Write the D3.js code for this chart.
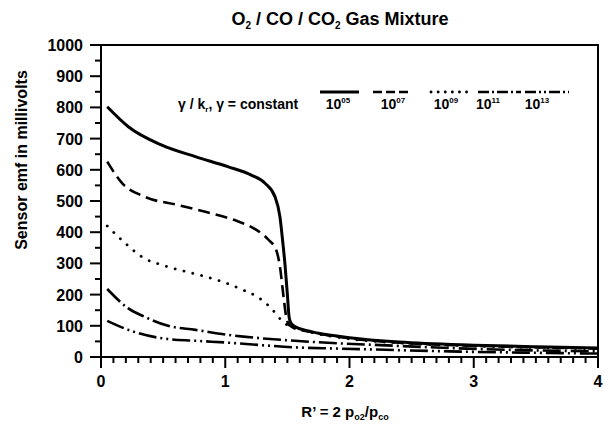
<!DOCTYPE html>
<html>
<head>
<meta charset="utf-8">
<script src="https://cdn.jsdelivr.net/npm/d3@7"></script>
<style>
  body { margin: 0; background: #fff; }
  svg { display: block; }
  svg text { font-family: "Liberation Sans", Arial, Helvetica, sans-serif; font-weight: bold; fill: #000; }
</style>
</head>
<body>
<svg id="chart" width="605" height="432" viewBox="0 0 605 432"></svg>
<script>
// ---- data ----
const seriesNames = ["10^05", "10^07", "10^09", "10^11", "10^13"];
const xTickLabels = [0, 1, 2, 3, 4];
const yTickLabels = [0, 100, 200, 300, 400, 500, 600, 700, 800, 900, 1000];

const x05 = [0.05,0.22,0.49,0.76,1.02,1.21,1.32,1.40,1.44,1.46,1.48,1.50,1.515,1.53,1.56,1.66,1.74,2.0,2.4,3.0,3.5,4.0];
const y05 = [802,738,679,642,610,583,557,514,450,380,300,200,125,108,98,84,77,62,48,38,33,29];

const x07 = [0.05,0.17,0.35,0.62,0.89,1.10,1.24,1.35,1.41,1.44,1.47,1.49,1.51,1.53,1.58,1.7,2.0,2.4,3.0,3.5,4.0];
const y07 = [626,557,514,487,460,435,410,375,343,290,190,130,105,98,90,79,60,46,36,31,27];

const x09 = [0.05,0.18,0.35,0.49,0.65,0.82,1.0,1.13,1.27,1.37,1.45,1.52,1.6,1.7,2.0,2.4,3.0,3.5,4.0];
const y09 = [420,370,316,295,277,260,238,217,190,156,119,97,88,78,58,45,35,30,26];

const x11 = [0.05,0.22,0.35,0.54,0.76,1.02,1.29,1.56,1.9,2.25,2.86,3.4,4.0];
const y11 = [218,156,129,100,87,71,60,52,44,38,28,22,18];

const x13 = [0.05,0.22,0.49,0.76,1.02,1.29,1.56,1.9,2.2,2.8,3.4,4.0];
const y13 = [116,87,60,52,46,38,31,27,24,18,14,11];

// ---- layout ----
const svg = d3.select("#chart");
const mLeft = 101, mRight = 598, mTop = 45, mBottom = 357;
const xScale = d3.scaleLinear().domain([0, 4]).range([mLeft, mRight]);
const yScale = d3.scaleLinear().domain([0, 1000]).range([mBottom, mTop]);

const styles = [
  { w: 3, dash: null, cap: "butt", leg: null },
  { w: 2.6, dash: "12 6", cap: "butt", leg: "9 4" },
  { w: 2.8, dash: "0.1 9", cap: "round", leg: "0.1 7" },
  { w: 2.6, dash: "18 4 2 4", cap: "butt", leg: "11 3 2 3" },
  { w: 2.6, dash: "18 4 2 4 2 4", cap: "butt", leg: "11 3 2 3 2 3" }
];

const series = [
  { xs: x05, ys: y05 },
  { xs: x07, ys: y07 },
  { xs: x09, ys: y09 },
  { xs: x11, ys: y11 },
  { xs: x13, ys: y13 }
];

// title
const title = svg.append("text").attr("x", 340).attr("y", 25).attr("text-anchor", "middle")
  .style("font-size", "18px");
title.append("tspan").text("O");
title.append("tspan").text("2").attr("dy", 4).style("font-size", "10px");
title.append("tspan").text(" / CO / CO").attr("dy", -4);
title.append("tspan").text("2").attr("dy", 4).style("font-size", "10px");
title.append("tspan").text(" Gas Mixture").attr("dy", -4);

// ticks (from scales)
const xTicks = d3.range(0, 41).map(i => i / 10);
const yTicks = d3.range(0, 21).map(i => i * 50);
svg.append("g").selectAll("path").data(xTicks).join("path")
  .attr("d", (d, i) => `M${xScale(d)},${mBottom}v${i % 10 === 0 ? 11 : 6}`)
  .attr("fill", "none").attr("stroke", "#000").attr("stroke-width", 2);
svg.append("g").selectAll("path").data(yTicks).join("path")
  .attr("d", (d, i) => `M${mLeft},${yScale(d)}h${i % 2 === 0 ? -11 : -6}`)
  .attr("fill", "none").attr("stroke", "#000").attr("stroke-width", 2);

// tick labels
svg.selectAll(".xl").data(xTickLabels).enter().append("text")
  .attr("x", d => xScale(d)).attr("y", 387).attr("text-anchor", "middle")
  .style("font-size", "16px").text(d => d);
svg.selectAll(".yl").data(yTickLabels).enter().append("text")
  .attr("x", 83).attr("y", d => yScale(d) + 6).attr("text-anchor", "end")
  .style("font-size", "16px").text(d => d);

// frame
svg.append("path")
  .attr("d", `M${mLeft},${mTop}H${mRight}V${mBottom}H${mLeft}Z`)
  .attr("fill", "none").attr("stroke", "#000").attr("stroke-width", 2);

// axis titles
svg.append("text").attr("transform", "translate(27,160) rotate(-90)").attr("text-anchor", "middle")
  .style("font-size", "16px").text("Sensor emf in millivolts");
const xt = svg.append("text").attr("x", 345).attr("y", 417).attr("text-anchor", "middle").style("font-size", "15px");
xt.append("tspan").text("R’ = 2 p");
xt.append("tspan").text("o2").attr("dy", 3).style("font-size", "9px");
xt.append("tspan").text("/p").attr("dy", -3);
xt.append("tspan").text("co").attr("dy", 3).style("font-size", "9px");

// curves
const line = d3.line().x(d => xScale(d[0])).y(d => yScale(d[1])).curve(d3.curveMonotoneX);
series.forEach((s, i) => {
  const pts = s.xs.map((xv, j) => [xv, s.ys[j]]);
  const st = styles[i];
  svg.append("path").datum(pts).attr("d", line).attr("fill", "none").attr("stroke", "#000")
    .attr("stroke-width", st.w).attr("stroke-linecap", st.cap).attr("stroke-linejoin", "round")
    .attr("stroke-dasharray", st.dash);
});

// legend
const lt = svg.append("text").attr("x", 178).attr("y", 109).style("font-size", "14px");
lt.append("tspan").text("γ / k");
lt.append("tspan").text("r").attr("dy", 3).style("font-size", "8px");
lt.append("tspan").text(", γ = constant").attr("dy", -3);

const legX = [[320, 359], [373, 411], [431, 472], [478, 521], [525, 569]];
const labX = [338, 393, 446, 488, 537];
const legY = 92;
series.forEach((s, i) => {
  const st = styles[i];
  svg.append("line").attr("x1", legX[i][0]).attr("x2", legX[i][1]).attr("y1", legY).attr("y2", legY)
    .attr("stroke", "#000").attr("stroke-width", st.w).attr("stroke-linecap", st.cap)
    .attr("stroke-dasharray", st.leg);
  const parts = seriesNames[i].split("^");
  const t = svg.append("text").attr("x", labX[i]).attr("y", 109).attr("text-anchor", "middle").style("font-size", "14px");
  t.append("tspan").text(parts[0]);
  t.append("tspan").text(parts[1]).attr("dy", -6).style("font-size", "8px");
});
</script>
</body>
</html>
